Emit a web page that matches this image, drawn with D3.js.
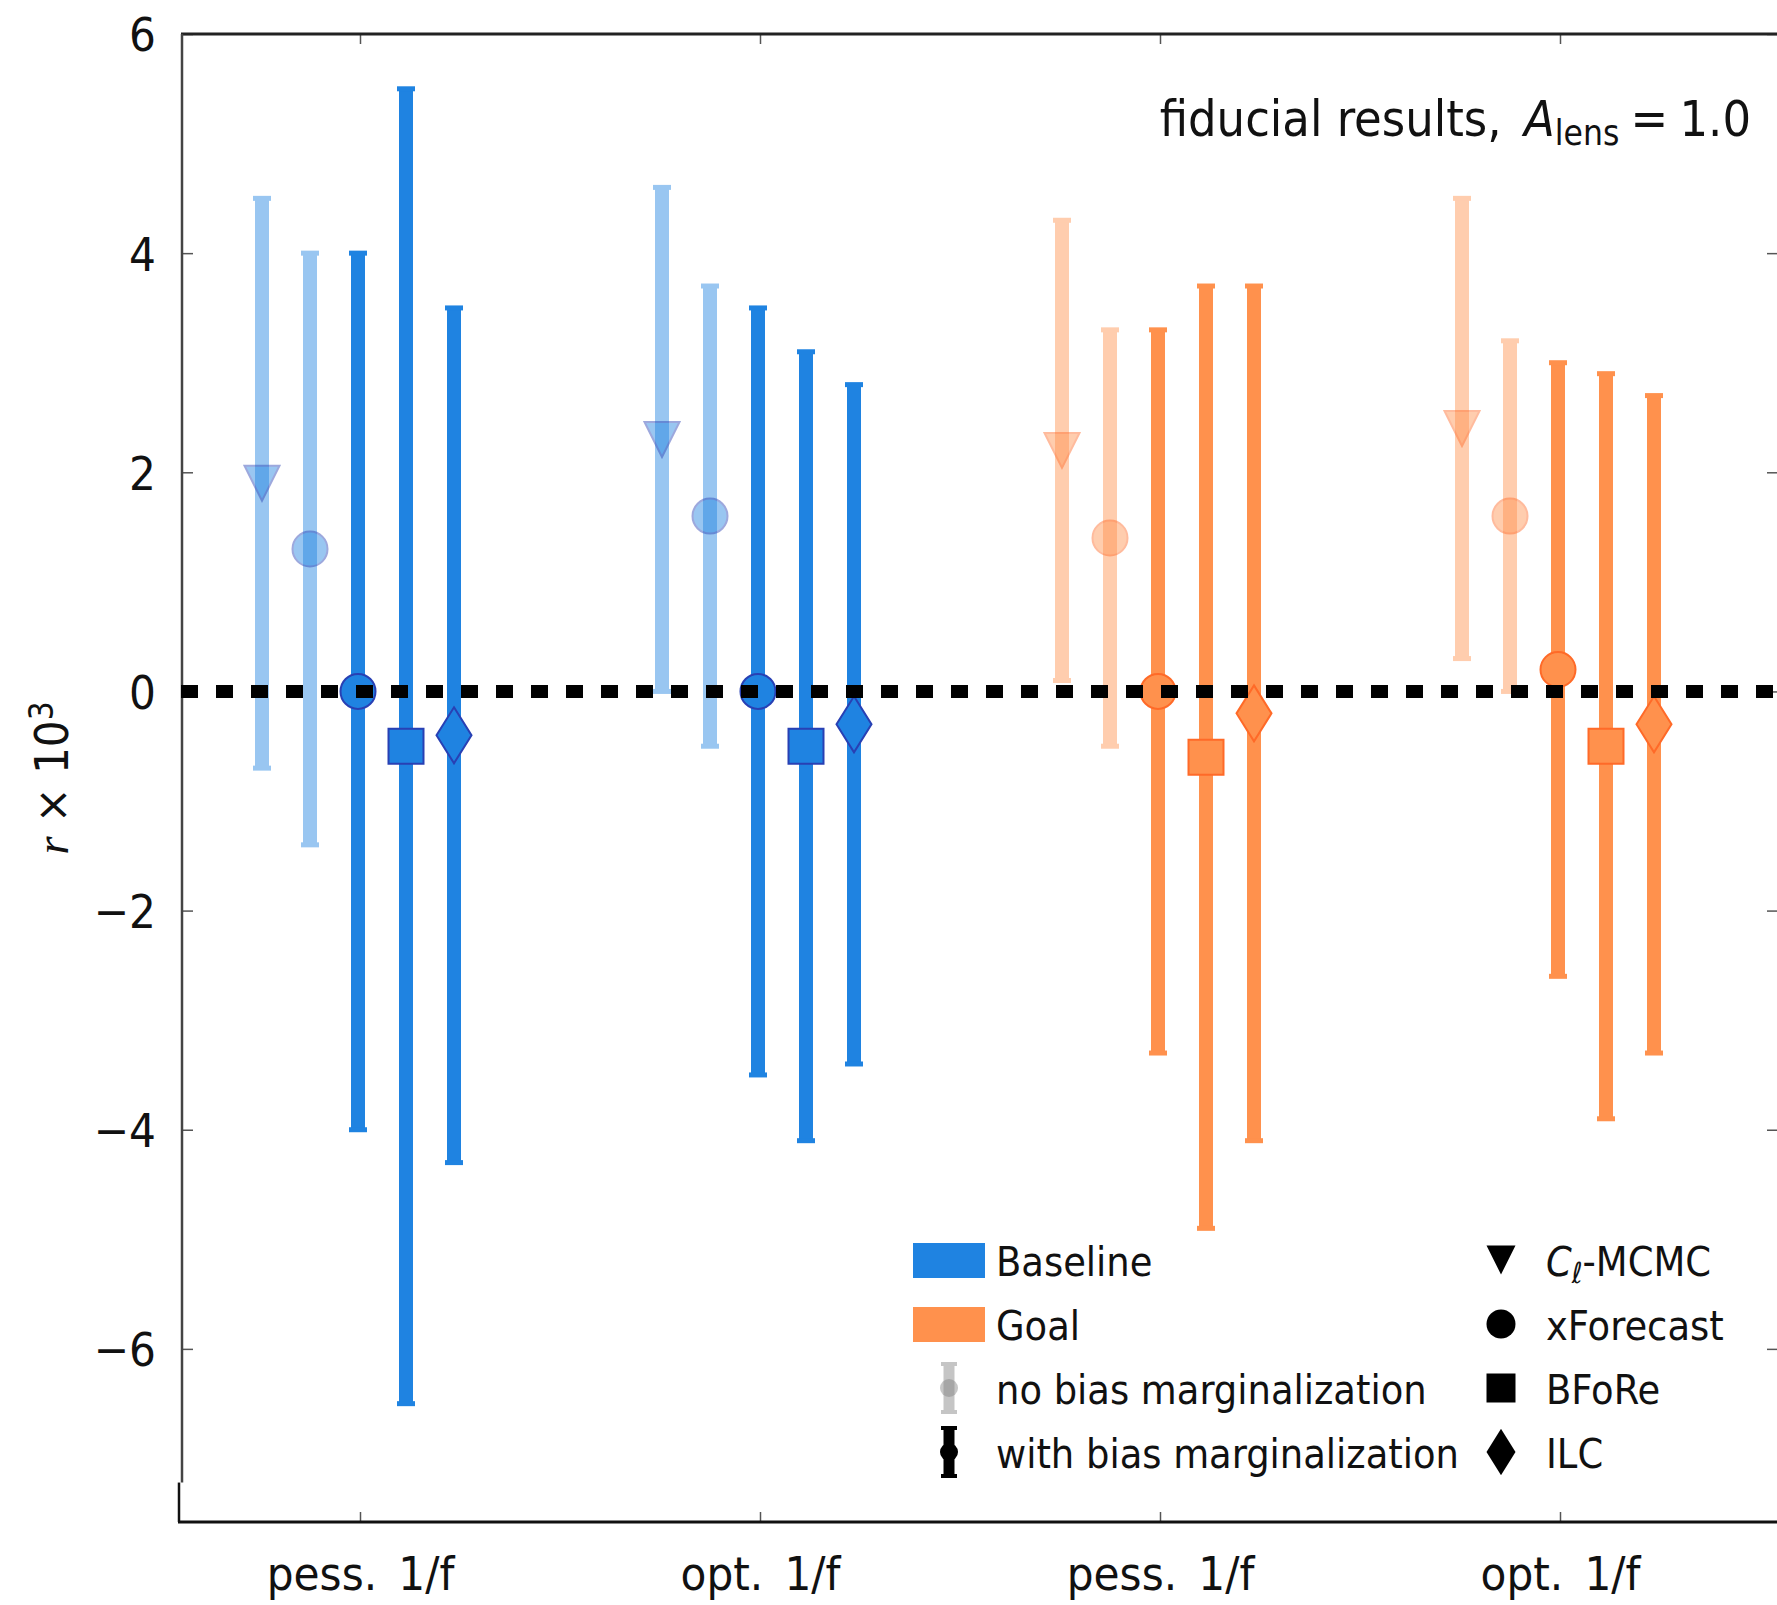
<!DOCTYPE html>
<html>
<head>
<meta charset="utf-8">
<script src="https://cdn.jsdelivr.net/npm/d3@7"></script>
<style>
  body { margin: 0; background: #fff; }
  svg text { font-family: "Liberation Sans Narrow", "DejaVu Sans Condensed", "Open Sans", sans-serif; font-stretch: condensed; fill: #111; }
</style>
</head>
<body>
<div id="graph"></div>
<script>
(function(){
"use strict";

// categories on the x axis
var categories = ["pess.\u2002 1/f", "opt.\u2002 1/f", "pess.\u2002 1/f", "opt.\u2002 1/f"];
var experiment = ["Baseline", "Baseline", "Goal", "Goal"];
// the five estimates inside each category
var methods = ["Cl-MCMC", "xForecast", "xForecast", "BFoRe", "ILC"];
var biasMarg = [false, false, true, true, true];
// r x 10^3 : central value, upper and lower end of the error bar
var rCentral = [[1.9, 1.3, 0.0, -0.5, -0.4],
                [2.3, 1.6, 0.0, -0.5, -0.3],
                [2.2, 1.4, 0.0, -0.6, -0.2],
                [2.4, 1.6, 0.2, -0.5, -0.3]];
var rUpper = [[4.5, 4.0, 4.0, 5.5, 3.5],
              [4.6, 3.7, 3.5, 3.1, 2.8],
              [4.3, 3.3, 3.3, 3.7, 3.7],
              [4.5, 3.2, 3.0, 2.9, 2.7]];
var rLower = [[-0.7, -1.4, -4.0, -6.5, -4.3],
              [0.0, -0.5, -3.5, -4.1, -3.4],
              [0.1, -0.5, -3.3, -4.9, -4.1],
              [0.3, 0.0, -2.6, -3.9, -3.3]];
var yTicks = [-6, -4, -2, 0, 2, 4, 6];

var colors = {Baseline: "#1f83e1", Goal: "#ff914d"};
var edgeColors = {Baseline: "#2840b4", Goal: "#ff6a28"};
var lightAlpha = 0.45;
var slotOffset = [-0.245, -0.125, -0.005, 0.115, 0.235]; // layout, in category units

var W = 1777, H = 1605;
var left = 181, right = 1779, top = 34, bottom = 1522;

var svg = d3.select("#graph").append("svg")
    .attr("width", W)
    .attr("height", H);

var x = d3.scaleLinear().domain([-0.4475, 3.5475]).range([left, right]);
var y = d3.scaleLinear().domain([-7.58, 6]).range([bottom, top]);

// axes (ticks point inward)
var yAxis = svg.append("g")
    .attr("transform", "translate(" + left + ",0)")
    .call(d3.axisLeft(y).tickValues(yTicks).tickSize(-12).tickPadding(25)
        .tickFormat(function(d){ return d < 0 ? "\u2212" + Math.abs(d) : d; }));
yAxis.select(".domain").remove();
yAxis.selectAll("text").style("font-size", "47px").attr("dy", "0.36em");
yAxis.selectAll("line").attr("stroke", "#555").attr("stroke-width", 1.5);

var yAxisR = svg.append("g")
    .attr("transform", "translate(" + right + ",0)")
    .call(d3.axisRight(y).tickValues(yTicks).tickSize(-12).tickFormat(""));
yAxisR.select(".domain").remove();
yAxisR.selectAll("line").attr("stroke", "#555").attr("stroke-width", 1.5);

var xAxis = svg.append("g")
    .attr("transform", "translate(0," + bottom + ")")
    .call(d3.axisBottom(x).tickValues([0, 1, 2, 3]).tickSize(-10).tickPadding(35)
        .tickFormat(function(d){ return categories[d].replace("\u2002 ", "\u2002"); }));
xAxis.select(".domain").remove();
xAxis.selectAll("text").style("font-size", "47px");
xAxis.selectAll("line").attr("stroke", "#555").attr("stroke-width", 1.5);

var xAxisT = svg.append("g")
    .attr("transform", "translate(0," + top + ")")
    .call(d3.axisTop(x).tickValues([0, 1, 2, 3]).tickSize(-10).tickFormat(""));
xAxisT.select(".domain").remove();
xAxisT.selectAll("line").attr("stroke", "#555").attr("stroke-width", 1.5);

// spines
svg.append("line").attr("x1", left).attr("x2", W).attr("y1", top).attr("y2", top)
    .attr("stroke", "#222").attr("stroke-width", 3);
svg.append("line").attr("x1", left + 1).attr("x2", left + 1).attr("y1", top).attr("y2", y(-7.22))
    .attr("stroke", "#444").attr("stroke-width", 2.5);
svg.append("line").attr("x1", left - 2).attr("x2", left - 2).attr("y1", y(-7.22)).attr("y2", bottom)
    .attr("stroke", "#111").attr("stroke-width", 2.5);
svg.append("line").attr("x1", left - 3).attr("x2", W).attr("y1", bottom).attr("y2", bottom)
    .attr("stroke", "#111").attr("stroke-width", 3);

// y label
svg.append("text")
    .attr("transform", "translate(68," + ((top + bottom) / 2) + ") rotate(-90)")
    .attr("text-anchor", "middle")
    .style("font-size", "47px")
    .call(function(t){
        t.append("tspan").style("font-style", "italic").style("font-family", "'Liberation Serif', serif").text("r");
        t.append("tspan").text(" \u00d7 10");
        t.append("tspan").attr("dy", "-0.45em").style("font-size", "33px").text("3");
    });

// marker shapes
function markerPath(m, s){
    var h = s / 2;
    if (m === "Cl-MCMC") return "M" + (-h) + "," + (-h) + "L" + h + "," + (-h) + "L0," + h + "Z";
    if (m === "BFoRe") return "M" + (-h) + "," + (-h) + "H" + h + "V" + h + "H" + (-h) + "Z";
    if (m === "ILC") return "M0," + (-s * 0.8) + "L" + (h) + ",0L0," + (s * 0.8) + "L" + (-h) + ",0Z";
    return d3.symbol().type(d3.symbolCircle).size(Math.PI * h * h)();
}

// flatten to a list of points
var points = [];
categories.forEach(function(c, i){
    methods.forEach(function(m, j){
        points.push({cat: i, slot: j, exp: experiment[i], method: m, bias: biasMarg[j],
            v: rCentral[i][j], hi: rUpper[i][j], lo: rLower[i][j]});
    });
});

var g = svg.append("g");
points.forEach(function(d){
    var px = x(d.cat + slotOffset[d.slot]);
    var op = d.bias ? 1 : lightAlpha;
    var eb = g.append("g").attr("opacity", op);
    eb.append("line")
        .attr("x1", px).attr("x2", px)
        .attr("y1", y(d.hi)).attr("y2", y(d.lo))
        .attr("stroke", colors[d.exp]).attr("stroke-width", 14);
    [d.hi, d.lo].forEach(function(e){
        eb.append("line")
            .attr("x1", px - 9).attr("x2", px + 9)
            .attr("y1", y(e)).attr("y2", y(e))
            .attr("stroke", colors[d.exp]).attr("stroke-width", 5);
    });
    g.append("path")
        .attr("d", markerPath(d.method, 35))
        .attr("transform", "translate(" + px + "," + y(d.v) + ")")
        .attr("fill", colors[d.exp])
        .attr("stroke", edgeColors[d.exp])
        .attr("stroke-width", 2)
        .attr("opacity", op);
});

// zero line
svg.append("line")
    .attr("x1", left).attr("x2", W)
    .attr("y1", y(0)).attr("y2", y(0))
    .attr("stroke", "#000").attr("stroke-width", 13)
    .attr("stroke-dasharray", "17,18");

// annotation
svg.append("text")
    .attr("x", 1751).attr("y", 136)
    .attr("text-anchor", "end")
    .style("font-size", "50px")
    .call(function(t){
        t.append("tspan").text("fiducial results,\u2002");
        t.append("tspan").style("font-style", "italic").text("A");
        t.append("tspan").attr("dy", 9).style("font-size", "35px").text("lens");
        t.append("tspan").attr("dy", -9).text("\u2005=\u20051.0");
    });

// legend
var leg = svg.append("g");
var rowY = [1260, 1324, 1388, 1452];
leg.append("rect").attr("x", 913).attr("y", 1243).attr("width", 72).attr("height", 35).attr("fill", colors.Baseline);
leg.append("rect").attr("x", 913).attr("y", 1307).attr("width", 72).attr("height", 35).attr("fill", colors.Goal);
[{c: "#808080", op: lightAlpha, r: rowY[2]}, {c: "#000", op: 1, r: rowY[3]}].forEach(function(o){
    var gi = leg.append("g").attr("opacity", o.op);
    gi.append("line").attr("x1", 949).attr("x2", 949).attr("y1", o.r - 24).attr("y2", o.r + 24)
        .attr("stroke", o.c).attr("stroke-width", 11);
    [o.r - 24, o.r + 24].forEach(function(e){
        gi.append("line").attr("x1", 941).attr("x2", 957).attr("y1", e).attr("y2", e)
            .attr("stroke", o.c).attr("stroke-width", 4);
    });
    leg.append("circle").attr("cx", 949).attr("cy", o.r).attr("r", 9).attr("fill", o.c).attr("opacity", o.op);
});
var legLabels = ["Baseline", "Goal", "no bias marginalization", "with bias marginalization"];
legLabels.forEach(function(l, i){
    leg.append("text").attr("x", 996).attr("y", rowY[i] + 16).style("font-size", "41px").text(l);
});
var legMethods = ["Cl-MCMC", "xForecast", "BFoRe", "ILC"];
legMethods.forEach(function(m, i){
    leg.append("path")
        .attr("d", markerPath(m, 29))
        .attr("transform", "translate(1501," + rowY[i] + ")")
        .attr("fill", "#000");
    var t = leg.append("text").attr("x", 1546).attr("y", rowY[i] + 16).style("font-size", "41px");
    if (m === "Cl-MCMC") {
        t.append("tspan").style("font-style", "italic").text("C");
        t.append("tspan").attr("dy", 7).style("font-size", "29px").style("font-style", "italic").text("\u2113");
        t.append("tspan").attr("dy", -7).text("-MCMC");
    } else {
        t.text(m);
    }
});

})();
</script>
</body>
</html>
